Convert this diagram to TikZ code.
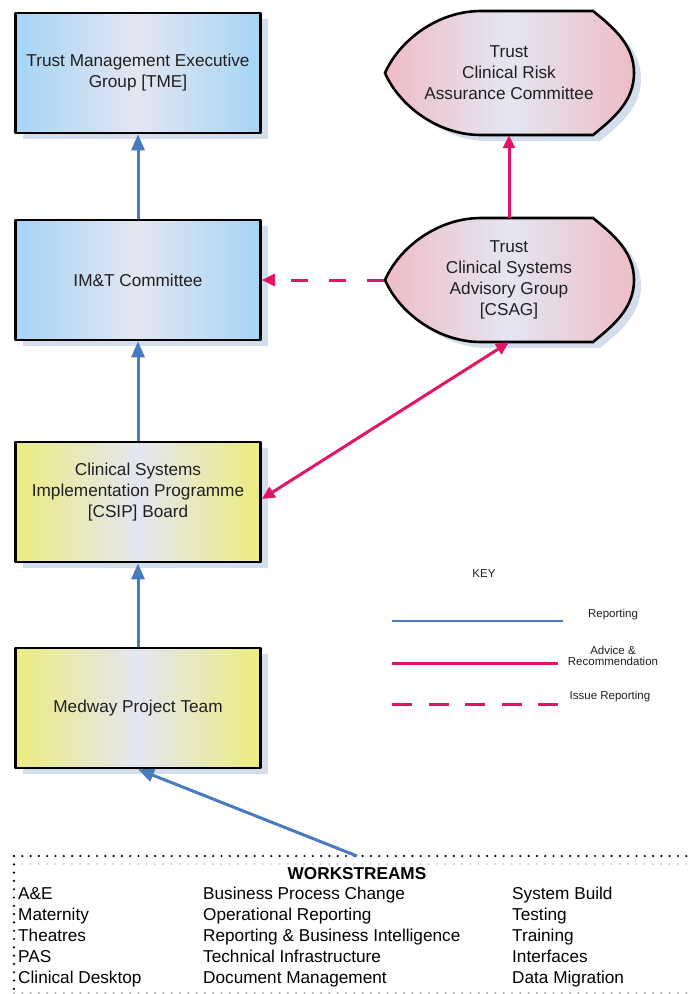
\documentclass[tikz,border=0pt]{standalone}
\usepackage{fontspec}
\setmainfont{Liberation Sans}
\usetikzlibrary{arrows.meta,shadows,backgrounds}

\definecolor{repblue}{RGB}{72,122,190}
\definecolor{advpink}{RGB}{226,22,104}
\definecolor{boxblue}{RGB}{164,212,245}
\definecolor{boxyellow}{RGB}{236,236,126}
\definecolor{boxpink}{RGB}{238,188,198}
\definecolor{boxmid}{RGB}{228,230,242}
\definecolor{boxshade}{RGB}{212,221,235}
\definecolor{ghostdots}{RGB}{204,211,222}
\definecolor{boxtext}{RGB}{32,32,32}

\newcommand{\bigtext}{\fontsize{17.2}{21}\selectfont}
\newcommand{\keysize}{\fontsize{11.5}{11.5}\selectfont}

% pointed-left committee outline round a named node
\newcommand{\teardrop}[1]{%
  \path[tearline, shift={(#1.center)}]
    (-124,0) .. controls (-110,-32) and (-72,-62) .. (-28,-62) -- (84,-62)
    .. controls (105,-45) and (125,-28) .. (125,0)
    .. controls (125,28) and (105,45) .. (84,62) -- (-28,62)
    .. controls (-72,62) and (-110,32) .. (-124,0) -- cycle;}

\begin{document}
\begin{tikzpicture}[x=1pt, y=-1pt, line join=round,
    box/.style={draw=black, line width=2.6pt, minimum width=245pt, minimum height=120pt,
      general shadow={fill=boxshade, shadow xshift=7pt, shadow yshift=-6pt}},
    boxlabel/.style={align=center, font=\bigtext, text=boxtext},
    bluebox/.style={box, boxlabel, left color=boxblue, right color=boxblue, middle color=boxmid},
    yellowbox/.style={box, boxlabel, left color=boxyellow, right color=boxyellow, middle color=boxmid},
    tear/.style={boxlabel, minimum width=249pt, minimum height=124pt, inner sep=0pt},
    tearline/.style={draw=black, line width=2.6pt, left color=boxpink, right color=boxpink, middle color=boxmid,
      general shadow={fill=boxshade, shadow xshift=7pt, shadow yshift=-6pt}},
    reparrow/.style={draw=repblue, line width=3pt, -{Triangle[length=16pt,width=13pt]}},
    advarrow/.style={draw=advpink, line width=3pt, -{Triangle[length=13pt,width=12pt]}},
    issuearrow/.style={advarrow, dash pattern=on 17pt off 21pt},
    keylabel/.style={font=\keysize, align=center, text=boxtext},
    wsitem/.style={anchor=base west, font=\bigtext, inner sep=0pt},
    wsdots/.style={line width=2.4pt, line cap=round, dash pattern=on 0pt off 8.3pt}]
  \useasboundingbox (0,0) rectangle (688,994);

  % reporting line (left column)
  \node[bluebox] (tme) at (138,73) {Trust Management Executive\\Group [TME]};
  \node[bluebox] (imt) at (138,280) {IM\&T Committee};
  \node[yellowbox] (csip) at (138,502) {};
  \node[boxlabel] (csiptext) at (138,492) {Clinical Systems\\Implementation Programme\\{[CSIP]} Board};
  \node[yellowbox] (medway) at (138,708) {Medway Project Team};

  % clinical safety groups (right column)
  \node[tear] (risk) at (509,73) {Trust\\Clinical Risk\\Assurance Committee};
  \node[tear] (csag) at (509,280) {Trust\\Clinical Systems\\Advisory Group\\{[CSAG]}};
  \begin{scope}[on background layer]
    \teardrop{risk}
    \teardrop{csag}
  \end{scope}

  \draw[reparrow] (imt) -- (tme);
  \draw[reparrow] (csip) -- (imt);
  \draw[reparrow] (medway) -- (csip);
  \draw[advarrow] (csag) -- (risk);
  \draw[issuearrow] (csag.west) -- (imt.east);
  \draw[advarrow, {Triangle[length=13pt,width=12pt]}-{Triangle[length=13pt,width=12pt]}] ([yshift=3pt]csip.east) -- (csag.south);

  % key
  \node[keylabel] (keyhead) at (484,574) {KEY};
  \coordinate (repa) at (392,621);  \coordinate (repb) at (563,621);
  \coordinate (adva) at (392,663);  \coordinate (advb) at (558,663);
  \coordinate (issa) at (392,704);  \coordinate (issb) at (558,704);
  \draw[repblue, line width=2.6pt] (repa) -- (repb);
  \draw[advpink, line width=3pt] (adva) -- (advb);
  \draw[advpink, line width=3pt, dash pattern=on 20pt off 16.5pt] (issa) -- (issb);
  \node[keylabel] (replabel) at (613,615) {Reporting};
  \node[keylabel] (advlabel) at (613,656) {Advice \&\\Recommendation};
  \node[keylabel] (isslabel) at (610,697) {Issue Reporting};

  % workstreams panel
  \draw[wsdots, ghostdots] (22,864) -- (688,864);
  \draw[wsdots] (14,856) -- (688,856);
  \draw[wsdots] (14,856) -- (14,994);
  \draw[wsdots, gray!60] (14,993) -- (688,993);
  \node[wsitem, anchor=base] (wstitle) at (357,879) {\bfseries WORKSTREAMS};
  \foreach \ws [count=\i] in {A\&E,Maternity,Theatres,PAS,Clinical Desktop}
    \node[wsitem] (wsa\i) at (18,{899+21.2*(\i-1)}) {\ws};
  \foreach \ws [count=\i] in {Business Process Change,Operational Reporting,Reporting \& Business Intelligence,Technical Infrastructure,Document Management}
    \node[wsitem] (wsb\i) at (203,{899+21.2*(\i-1)}) {\ws};
  \foreach \ws [count=\i] in {System Build,Testing,Training,Interfaces,Data Migration}
    \node[wsitem] (wsc\i) at (512,{899+21.2*(\i-1)}) {\ws};
  \coordinate (wstop) at (357,856);
  \draw[reparrow] (wstop) -- (medway.south);
\end{tikzpicture}
\end{document}
